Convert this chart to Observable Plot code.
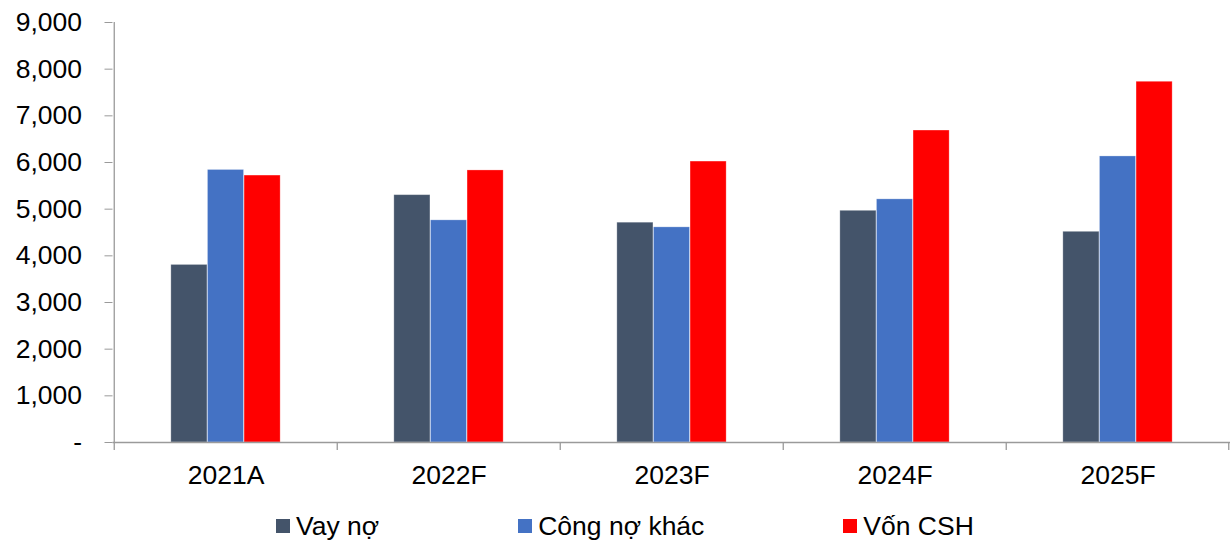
<!DOCTYPE html>
<html>
<head>
<meta charset="utf-8">
<script src="https://cdn.jsdelivr.net/npm/d3@7"></script>
<script src="https://cdn.jsdelivr.net/npm/@observablehq/plot@0.6"></script>
<style>
  html, body { margin: 0; padding: 0; background: #fff; }
  #wrap { position: relative; width: 1230px; height: 542px; overflow: hidden; font-family: "Liberation Sans", Arial, sans-serif; }
  #legend { position: absolute; left: 276px; top: 511px; display: flex; align-items: center; font-size: 26.5px; line-height: 30px; color: #000; }
  .item { display: flex; align-items: center; margin-right: 139px; }
  .sw { width: 14px; height: 14px; margin-right: 6px; }
</style>
</head>
<body>
<div id="wrap"><div id="chart"></div><div id="legend"></div></div>
<script>
const categories = ["2021A", "2022F", "2023F", "2024F", "2025F"];
const seriesNames = ["Vay nợ", "Công nợ khác", "Vốn CSH"];
const vayNo = [3805, 5300, 4710, 4965, 4515];
const congNoKhac = [5840, 4760, 4610, 5210, 6130];
const vonCSH = [5720, 5830, 6020, 6685, 7730];
const yTicks = [0, 1000, 2000, 3000, 4000, 5000, 6000, 7000, 8000, 9000];
const colors = ["#44546A", "#4472C4", "#FF0000"];

const seriesValues = [vayNo, congNoKhac, vonCSH];
const rows = [];
seriesNames.forEach((s, si) => categories.forEach((c, ci) => rows.push({cat: c, series: s, value: seriesValues[si][ci]})));

const width = 1230, marginLeft = 112.5, marginRight = 0;
const band = (width - marginLeft - marginRight) / categories.length;
const barW = 36.6;
const inset = (band - barW) / 2;
const axisColor = "#9a9a9a";

const barMarks = seriesNames.map((s, si) =>
  Plot.barY(rows.filter(r => r.series === s), {
    x: "cat", y: "value", fill: colors[si],
    dx: (si - 1) * barW, insetLeft: inset, insetRight: inset,
    stroke: "#ffffff", strokeOpacity: 0.35, strokeWidth: 0.8
  })
);

const chart = Plot.plot({
  width, height: 500,
  marginLeft, marginRight, marginTop: 22, marginBottom: 58,
  style: {fontFamily: "'Liberation Sans', Arial, sans-serif", background: "#fff"},
  x: {domain: categories, padding: 0, label: null},
  y: {domain: [0, 9000], label: null},
  marks: [
    ...barMarks,
    Plot.ruleY([0], {stroke: axisColor, strokeWidth: 1.3}),
    Plot.ruleX([categories[0]], {x: d => d, dx: -band / 2, y1: 9000, y2: 0, insetBottom: -8, stroke: axisColor, strokeWidth: 1.3}),
    Plot.ruleX(categories.slice(1), {x: d => d, dx: -band / 2, y1: 0, y2: 0, insetBottom: -8, stroke: axisColor, strokeWidth: 1.3}),
    Plot.ruleX([categories[categories.length - 1]], {x: d => d, dx: band / 2 - 1, y1: 0, y2: 0, insetBottom: -8, stroke: axisColor, strokeWidth: 1.3}),
    Plot.axisY({ticks: yTicks, tickFormat: d => d === 0 ? "-" : d3.format(",")(d), tickSize: 8, tickPadding: 23, fontSize: 26.5, stroke: axisColor, fill: "#000", label: null}),
    Plot.axisX({tickSize: 0, tickPadding: 23, fontSize: 26.5, fill: "#000", label: null})
  ]
});
document.getElementById("chart").appendChild(chart);

const legend = document.getElementById("legend");
seriesNames.forEach((s, i) => {
  const item = document.createElement("div");
  item.className = "item";
  const sw = document.createElement("span");
  sw.className = "sw";
  sw.style.background = colors[i];
  const t = document.createElement("span");
  t.textContent = s;
  item.appendChild(sw); item.appendChild(t);
  legend.appendChild(item);
});
</script>
</body>
</html>
